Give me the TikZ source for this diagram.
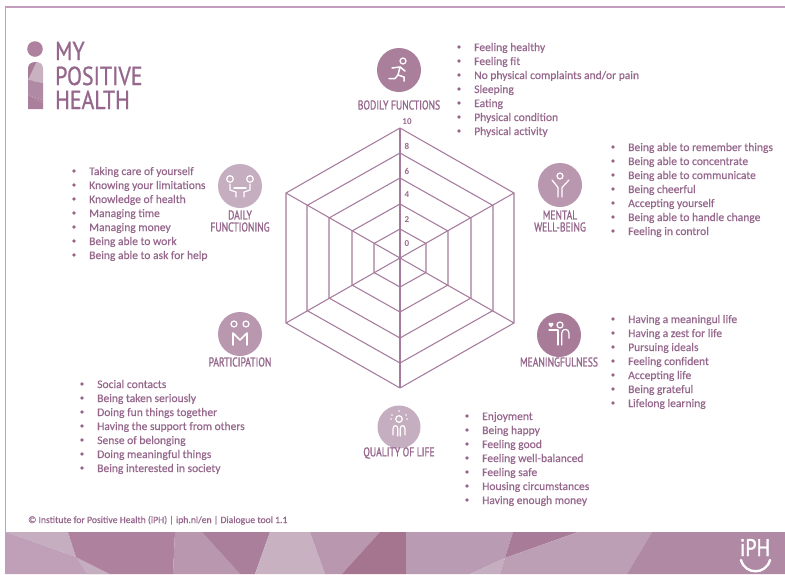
\documentclass[tikz,border=0pt]{standalone}
\usepackage{fontspec}
\setmainfont{Carlito}
\newfontfamily\listfont[FakeBold=0.35]{Carlito}
\newfontfamily\headfont[FakeStretch=0.75,FakeBold=1.1]{PT Sans}
\newfontfamily\logofont[FakeStretch=0.84,FakeBold=0.8]{PT Sans}
\newfontfamily\markfont[FakeStretch=0.84,FakeBold=1.6]{PT Sans}
\definecolor{txt}{HTML}{96678C}
\definecolor{web}{HTML}{A57A9C}
\definecolor{frameC}{HTML}{C49DBE}
\definecolor{bA}{HTML}{C5AEBF}
\definecolor{bB}{HTML}{BFA0B8}
\definecolor{bD}{HTML}{AE829F}
\definecolor{bE}{HTML}{B897AF}
\definecolor{bF}{HTML}{AA7F9C}
\definecolor{bG}{HTML}{C8B2C2}
\definecolor{bI}{HTML}{A5748F}
\definecolor{bJ}{HTML}{B99CB3}
\definecolor{bK}{HTML}{A87C99}
\definecolor{bM}{HTML}{BC9FB5}
\definecolor{bN}{HTML}{B08AA5}
\tikzset{
  listtext/.style={anchor=base west,inner sep=0pt,text=txt,font=\listfont\fontsize{11.55}{13}\selectfont},
  bulletdot/.style={circle,fill=txt,minimum size=3.6pt,inner sep=0pt},
  head/.style={anchor=center,inner sep=0pt,align=center,text=txt,font=\headfont\fontsize{12.8}{12}\selectfont},
  axisnum/.style={inner sep=0pt,text=txt,font=\bfseries\fontsize{9}{9}\selectfont},
  logotext/.style={anchor=base west,inner sep=0pt,text=txt,font=\logofont\fontsize{26}{26}\selectfont},
  ring/.style={draw=web,line width=1.05pt,line join=round},
  spoke/.style={draw=web,line width=1.05pt},
  glyph/.style={draw=white,line width=1.2pt,line cap=round,line join=round},
}
\newcommand{\bulletlist}[4]{%
  \foreach \t [count=\i from 0] in {#4}{
    \pgfmathsetmacro{\yy}{#3+14*\i}
    \node[bulletdot] (#1d\i) at (#2,\yy) {};
    \node[listtext] (#1t\i) at (#2+15,\yy+4) {\t};
  }}
\begin{document}
\begin{tikzpicture}[x=1pt,y=-1pt]
\useasboundingbox (0,0) rectangle (785,574);
\fill[white] (0,0) rectangle (785,574);
% banner
\fill[bA] (6,532)--(68,532)--(76,557)--cycle;
\fill[bB] (6,532)--(76,557)--(110,574)--(6,574)--cycle;
\fill[bA] (76,557)--(110,574)--(87,574)--cycle;
\fill[bD] (68,532)--(175,532)--(173,574)--(110,574)--(76,557)--cycle;
\fill[bE] (175,532)--(202,532)--(240,574)--(173,574)--cycle;
\fill[bF] (202,532)--(270,532)--(255,574)--(240,574)--cycle;
\fill[bG] (270,532)--(310,532)--(325,574)--(255,574)--cycle;
\fill[bE] (310,532)--(380,532)--(342,574)--(325,574)--cycle;
\fill[bI] (380,532)--(406,532)--(406,574)--(342,574)--cycle;
\fill[bJ] (406,532)--(513,532)--(505,558)--(470,574)--(406,574)--cycle;
\fill[bK] (513,532)--(578,532)--(505,558)--cycle;
\fill[bA] (505,558)--(500,574)--(470,574)--cycle;
\fill[bM] (578,532)--(652,532)--(627,574)--(500,574)--(505,558)--cycle;
\fill[bN] (652,532)--(785,532)--(785,574)--(627,574)--cycle;
% frame
\draw[frameC,line width=1.1pt] (785,7)--(5.5,7)--(5.5,574);
% logo
\fill[bD] (35,49) circle (7.8);
\begin{scope}
\clip (28,109)--(28,68) .. controls (28,64) and (32,62) .. (35,62) .. controls (39,62) and (43,64) .. (43,68)--(43,109)--cycle;
\fill[bK] (28,61) rectangle (43,81);
\fill[bG] (37,61)--(43,61)--(43,83)--(28,80)--cycle;
\fill[bN] (28,80)--(43,83)--(43,100)--(28,95)--cycle;
\fill[bF] (28,95)--(43,103)--(43,109)--(28,109)--cycle;
\fill[bD] (28,95)--(43,100)--(43,103)--cycle;
\end{scope}
\node[logotext] (lg1) at (55,60) {MY};
\node[logotext] (lg2) at (55,85) {POSITIVE};
\node[logotext] (lg3) at (55,109) {HEALTH};
% web
\coordinate (c) at (400,258);
\foreach \rx/\ry [count=\k] in {114/130,93/105,71/80,48/54,26/29}{
  \coordinate (v\k a) at (400,258-\ry);
  \coordinate (v\k b) at (400+\rx,258-\ry/2);
  \coordinate (v\k c) at (400+\rx,258+\ry/2);
  \coordinate (v\k d) at (400,258+\ry);
  \coordinate (v\k e) at (400-\rx,258+\ry/2);
  \coordinate (v\k f) at (400-\rx,258-\ry/2);
  \draw[ring] (v\k a)--(v\k b)--(v\k c)--(v\k d)--(v\k e)--(v\k f)--cycle;
}
\draw[spoke] (v1a)--(v1d);
\draw[spoke] (v1b)--(v1e);
\draw[spoke] (v1c)--(v1f);
\foreach \n/\yy in {10/122,8/146,6/171,4/195,2/220,0/244}
  \node[axisnum] (ax\n) at (407,\yy) {\n};
% icon circles
\fill[bF] (399,70) circle (22);
\fill[bE] (560,185) circle (22);
\fill[bK] (559,335) circle (22);
\fill[bA] (399,427) circle (21.5);
\fill[bE] (240,334) circle (22);
\fill[bA] (240,186) circle (22);
% runner
\begin{scope}[shift={(399,70)}]
\draw[glyph] (4,-9) circle (3);
\draw[glyph,line width=1.5pt] (-7,-2)--(1,-3)--(-1,5)--(-4,8.5)--(-10,8.5);
\draw[glyph,line width=1.5pt] (1,-3)--(6,1);
\draw[glyph,line width=1.5pt] (-1,5)--(5,7)--(5,11);
\end{scope}
% mental
\begin{scope}[shift={(560,185)}]
\draw[glyph] (0,-9) circle (3);
\draw[glyph] (-8,-5)--(-2,2.5)--(-2,12);
\draw[glyph] (9,-5)--(2,2.5)--(2,12);
\end{scope}
% meaningfulness
\begin{scope}[shift={(559,335)}]
\draw[glyph] (1,-10) circle (3);
\fill[white] (-9.2,-11) circle (1.5) (-6.8,-11) circle (1.5);
\fill[white] (-10.6,-10.5)--(-8,-7.5)--(-5.4,-10.5)--cycle;
\draw[glyph] (-10,-5)--(-1,-5)--(-1,10);
\draw[glyph] (2.7,10)--(2.7,-1.7) .. controls (2.7,-7) and (10,-7) .. (10,-1.7)--(10,3.3);
\end{scope}
% quality of life
\begin{scope}[shift={(399,427)}]
\draw[glyph] (0,-8) circle (3.3);
\foreach \p in {(0,-16),(-7,-12),(7,-12),(-8,-8),(8,-8)}
  \fill[white] \p circle (0.9);
\draw[glyph] (-6,8)--(-6,2) .. controls (-6,-2.5) and (-1.2,-2.5) .. (-1.2,2)--(-1.2,9);
\draw[glyph] (6,8)--(6,2) .. controls (6,-2.5) and (1.2,-2.5) .. (1.2,2)--(1.2,9);
\end{scope}
% participation
\begin{scope}[shift={(240,334)}]
\draw[glyph] (-6,-10) circle (3);
\draw[glyph] (6,-10) circle (3);
\draw[glyph,line width=1.6pt] (-7,11)--(-7,-1)--(0,6)--(7,-1)--(7,11);
\end{scope}
% daily functioning
\begin{scope}[shift={(240,186)}]
\draw[glyph] (-10,-7) circle (3.3);
\draw[glyph] (10,-7) circle (3.3);
\draw[glyph] (-10,-2)--(-10,4)--(-4,6)--(-4,11);
\draw[glyph] (10,-2)--(10,4)--(4,6)--(4,11);
\draw[glyph] (-6,2)--(6,2);
\end{scope}
% headings
\node[head] (hb) at (399,105) {BODILY FUNCTIONS};
\node[head] (hm) at (560,221) {MENTAL\\WELL-BEING};
\node[head] (hf) at (559,362) {MEANINGFULNESS};
\node[head] (hq) at (399,453) {QUALITY OF LIFE};
\node[head] (hp) at (240,362) {PARTICIPATION};
\node[head] (hd) at (240,221) {DAILY\\FUNCTIONING};
% lists
\bulletlist{b}{459}{47}{Feeling healthy,Feeling fit,No physical complaints and/or pain,Sleeping,Eating,Physical condition,Physical activity}
\bulletlist{m}{613}{147}{Being able to remember things,Being able to concentrate,Being able to communicate,Being cheerful,Accepting yourself,Being able to handle change,Feeling in control}
\bulletlist{f}{613}{319}{Having a meaningul life,Having a zest for life,Pursuing ideals,Feeling confident,Accepting life,Being grateful,Lifelong learning}
\bulletlist{q}{467}{416}{Enjoyment,Being happy,Feeling good,Feeling well-balanced,Feeling safe,Housing circumstances,Having enough money}
\bulletlist{p}{82}{384}{Social contacts,Being taken seriously,Doing fun things together,Having the support from others,Sense of belonging,Doing meaningful things,Being interested in society}
\bulletlist{d}{74}{171}{Taking care of yourself,Knowing your limitations,Knowledge of health,Managing time,Managing money,Being able to work,Being able to ask for help}
% footer
\node[listtext,font=\listfont\fontsize{9.7}{11}\selectfont] (foot) at (28,523) {© Institute for Positive Health (iPH) | iph.nl/en | Dialogue tool 1.1};
% iPH mark
\node[anchor=base,inner sep=0pt,text=white,font=\markfont\fontsize{24}{24}\selectfont] (iph) at (755,556) {iPH};
\draw[white,line width=2.4pt,line cap=round] (741,560) .. controls (745,575) and (766,575) .. (770,560);
\end{tikzpicture}
\end{document}
